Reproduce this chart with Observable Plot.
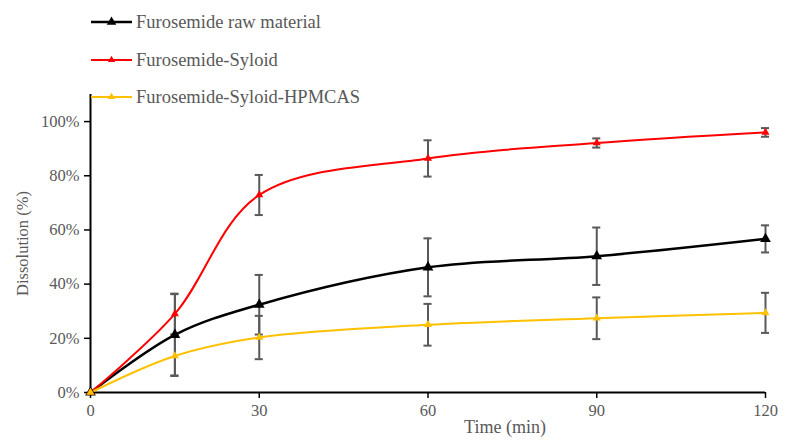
<!DOCTYPE html>
<html>
<head>
<meta charset="utf-8">
<script src="https://cdn.jsdelivr.net/npm/d3@7"></script>
<script src="https://cdn.jsdelivr.net/npm/@observablehq/plot@0.6"></script>
<style>
  html, body { margin: 0; padding: 0; background: #fff; }
  #wrap { position: relative; width: 785px; height: 442px; }
  #legend { position: absolute; left: 0; top: 0; }
</style>
</head>
<body>
<div id="wrap"></div>
<script>
const times = [0, 15, 30, 60, 90, 120];
const seriesNames = ["Furosemide raw material", "Furosemide-Syloid", "Furosemide-Syloid-HPMCAS"];
const rawMean = [0, 21.3, 32.4, 46.2, 50.3, 56.7];
const rawErr = [0, 15.0, 11.0, 10.7, 10.6, 5.0];
const syloidMean = [0, 29.0, 72.9, 86.4, 92.1, 96.0];
const syloidErr = [0, 7.5, 7.4, 6.7, 1.7, 1.6];
const hpmcasMean = [0, 13.5, 20.3, 25.0, 27.4, 29.4];
const hpmcasErr = [0, 7.4, 8.0, 7.7, 7.7, 7.4];
const xTicks = [0, 30, 60, 90, 120];
const yTicks = [0, 20, 40, 60, 80, 100];

const colors = ["#000000", "#ff0000", "#ffc000"];
const widths = [2.5, 2, 2];
const markerR = [4, 3, 3];

const means = [rawMean, syloidMean, hpmcasMean];
const errs = [rawErr, syloidErr, hpmcasErr];
const rows = [];
seriesNames.forEach((s, i) => times.forEach((t, j) => rows.push({series: s, idx: i, t, v: means[i][j], e: errs[i][j]})));
const errRows = rows.filter(d => d.e > 0);
const capHalf = 0.72;

const marks = [
  Plot.ruleY([0], {stroke: "#000", strokeWidth: 2}),
  Plot.ruleX([0], {stroke: "#000", strokeWidth: 2}),
  Plot.axisX({ticks: xTicks, tickSize: 6, tickPadding: 6, stroke: "#000", fill: "#595959", fontSize: 16.5, label: null, strokeWidth: 1.5}),
  Plot.axisY({ticks: yTicks, tickSize: 6, tickPadding: 5, tickFormat: d => d + "%", stroke: "#000", fill: "#595959", fontSize: 16.5,
    label: "Dissolution (%)", labelAnchor: "center", labelArrow: "none", labelOffset: 74, strokeWidth: 1.5}),
  Plot.text(["Time (min)"], {frameAnchor: "bottom", dx: 77, dy: 40, fill: "#595959", fontSize: 18}),
];
seriesNames.forEach((s, i) => {
  marks.push(Plot.line(rows.filter(d => d.idx === i), {x: "t", y: "v", stroke: colors[i], strokeWidth: widths[i], curve: "catmull-rom"}));
});
marks.push(
  Plot.ruleX(errRows, {x: "t", y1: d => d.v - d.e, y2: d => d.v + d.e, stroke: "#595959", strokeWidth: 2}),
  Plot.ruleY(errRows, {y: d => d.v + d.e, x1: d => d.t - capHalf, x2: d => d.t + capHalf, stroke: "#595959", strokeWidth: 2}),
  Plot.ruleY(errRows, {y: d => d.v - d.e, x1: d => d.t - capHalf, x2: d => d.t + capHalf, stroke: "#595959", strokeWidth: 2})
);
seriesNames.forEach((s, i) => {
  marks.push(Plot.dot(rows.filter(d => d.idx === i), {x: "t", y: "v", symbol: "triangle", r: markerR[i], fill: colors[i], stroke: "none"}));
});

const chart = Plot.plot({
  width: 785,
  height: 442,
  marginLeft: 90,
  marginRight: 20,
  marginTop: 94,
  marginBottom: 50,
  style: {fontFamily: "'Liberation Serif', 'Times New Roman', serif", fontSize: "16.5px", background: "#fff"},
  x: {domain: [0, 120]},
  y: {domain: [0, 110]},
  marks
});
document.getElementById("wrap").appendChild(chart);

// Legend
const leg = d3.select("#wrap").append("svg").attr("id", "legend").attr("width", 400).attr("height", 110);
const legY = [22, 60, 97];
seriesNames.forEach((s, i) => {
  const g = leg.append("g").attr("transform", `translate(0,${legY[i]})`);
  g.append("line").attr("x1", 91).attr("x2", 132).attr("y1", 0).attr("y2", 0).attr("stroke", colors[i]).attr("stroke-width", widths[i]);
  g.append("path").attr("d", d3.symbol(d3.symbolTriangle, Math.PI * markerR[i] * markerR[i] * 0.8)()).attr("transform", "translate(111.5,0)").attr("fill", colors[i]);
  g.append("text").attr("x", 136).attr("y", 0).attr("dy", "0.35em").attr("fill", "#595959")
    .style("font-family", "'Liberation Serif', 'Times New Roman', serif").style("font-size", "18.5px").text(s);
});
</script>
</body>
</html>
